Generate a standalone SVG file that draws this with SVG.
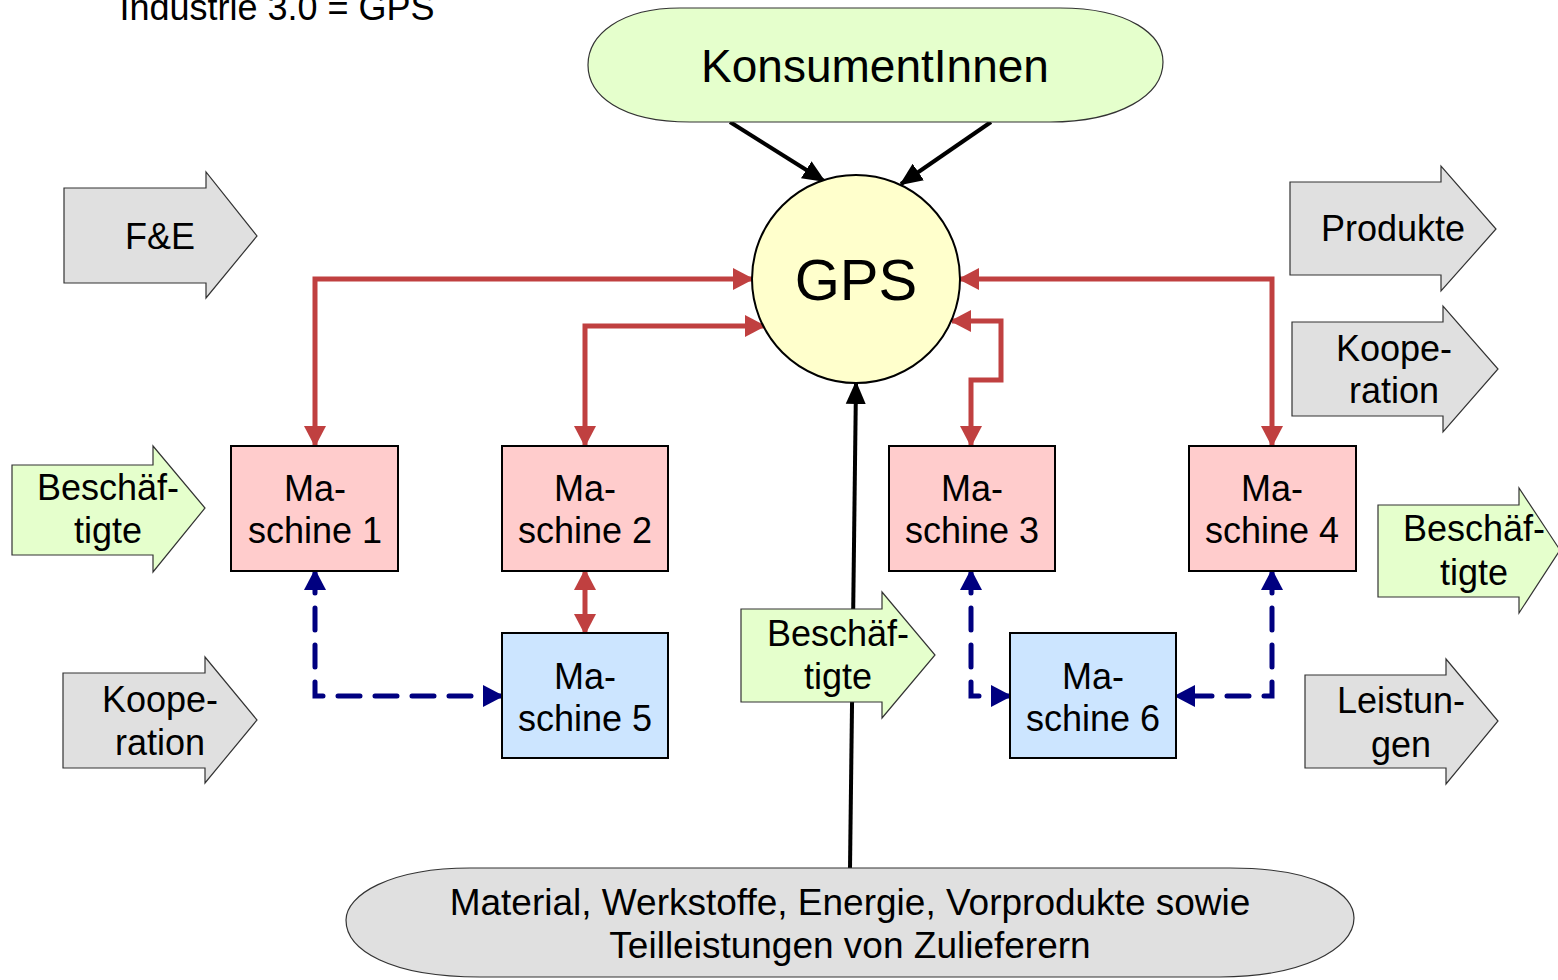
<svg xmlns="http://www.w3.org/2000/svg" width="1558" height="980" viewBox="0 0 1558 980">
<style>
text{font-family:"Liberation Sans",Arial,sans-serif;font-size:36px;fill:#000;text-anchor:middle}
text.big{font-size:46px}
text.huge{font-size:58px}
text.mat{font-size:37px}
.grey{fill:#E0E0E0;stroke:#333;stroke-width:1.2}
.green{fill:#E5FFCC;stroke:#333;stroke-width:1.2}
.pink{fill:#FFCCCC;stroke:#000;stroke-width:2}
.blue{fill:#CCE5FF;stroke:#000;stroke-width:2}
.red{fill:none;stroke:#C04040;stroke-width:5;marker-start:url(#mr);marker-end:url(#mr)}
.navy{fill:none;stroke:#000080;stroke-width:5;stroke-dasharray:22 15;stroke-linecap:round;marker-start:url(#mb);marker-end:url(#mb)}
.blk{fill:none;stroke:#000;stroke-width:4;marker-end:url(#mk)}
</style>
<defs>
<marker id="mr" markerUnits="userSpaceOnUse" markerWidth="22" markerHeight="22" refX="19" refY="11" orient="auto-start-reverse" viewBox="0 0 22 22"><path d="M0,0 L21,11 L0,22 z" fill="#C04040"/></marker>
<marker id="mb" markerUnits="userSpaceOnUse" markerWidth="22" markerHeight="22" refX="19" refY="11" orient="auto-start-reverse" viewBox="0 0 22 22"><path d="M0,0 L21,11 L0,22 z" fill="#000080"/></marker>
<marker id="mk" markerUnits="userSpaceOnUse" markerWidth="24" markerHeight="22" refX="21" refY="10" orient="auto" viewBox="0 0 24 20"><path d="M0,0 L23,10 L0,20 z" fill="#000"/></marker>
</defs>
<rect width="1558" height="980" fill="#fff"/>
<text id="title" x="277" y="20">Industrie 3.0 = GPS</text>

<g id="connectors">
<path class="red" d="M315 445 V279 H752"/>
<path class="red" d="M585 445 V326 H764"/>
<path class="red" d="M960 279 H1272 V445"/>
<path class="red" d="M971 445 V380 H1001 V321 H952"/>
<path class="red" d="M585 571 V633"/>
<path class="navy" d="M315 571 V696 H502"/>
<path class="navy" d="M971 571 V696 H1010"/>
<path class="navy" d="M1272 571 V696 H1176"/>
<path class="blk" d="M730 122 L824 181"/>
<path class="blk" d="M991 122 L901 184"/>
<path class="blk" d="M850 868 L856 383"/>
</g>

<g id="konsumenten">
<path class="green" d="M680 8 L1060 8 C1130 8 1163 35 1163 62 C1163 95 1120 122 1050 122 L690 122 C620 122 588 95 588 65 C588 35 620 8 680 8 Z"/>
<text class="big" x="875" y="82">KonsumentInnen</text>
</g>

<g id="gps">
<circle cx="856" cy="279" r="104" fill="#FFFFCC" stroke="#000" stroke-width="2"/>
<text class="huge" x="856" y="300">GPS</text>
</g>

<g id="fe">
<path class="grey" d="M64 188 H206 V172 L257 236 L206 298 V283 H64 Z"/>
<text x="160" y="249">F&amp;E</text>
</g>
<g id="besch-left">
<path class="green" d="M12 465 H153 V446 L205 508 L153 572 V555 H12 Z"/>
<text x="108" y="500">Beschäf-</text>
<text x="108" y="543">tigte</text>
</g>
<g id="koop-left">
<path class="grey" d="M63 673 H205 V657 L257 720 L205 783 V768 H63 Z"/>
<text x="160" y="712">Koope-</text>
<text x="160" y="755">ration</text>
</g>
<g id="produkte">
<path class="grey" d="M1290 182 H1441 V166 L1496 229 L1441 291 V275 H1290 Z"/>
<text x="1393" y="241">Produkte</text>
</g>
<g id="koop-right">
<path class="grey" d="M1292 322 H1443 V306 L1498 369 L1443 432 V416 H1292 Z"/>
<text x="1394" y="361">Koope-</text>
<text x="1394" y="403">ration</text>
</g>
<g id="besch-right">
<path class="green" d="M1378 505 H1519 V488 L1560 550 L1519 613 V597 H1378 Z"/>
<text x="1474" y="541">Beschäf-</text>
<text x="1474" y="585">tigte</text>
</g>
<g id="leistungen">
<path class="grey" d="M1305 675 H1446 V659 L1498 721 L1446 784 V768 H1305 Z"/>
<text x="1401" y="713">Leistun-</text>
<text x="1401" y="757">gen</text>
</g>
<g id="besch-mid">
<path class="green" d="M741 609 H882 V592 L935 655 L882 718 V702 H741 Z"/>
<text x="838" y="646">Beschäf-</text>
<text x="838" y="689">tigte</text>
</g>

<g id="m1"><rect class="pink" x="231" y="446" width="167" height="125"/><text x="315" y="501">Ma-</text><text x="315" y="543">schine 1</text></g>
<g id="m2"><rect class="pink" x="502" y="446" width="166" height="125"/><text x="585" y="501">Ma-</text><text x="585" y="543">schine 2</text></g>
<g id="m3"><rect class="pink" x="889" y="446" width="166" height="125"/><text x="972" y="501">Ma-</text><text x="972" y="543">schine 3</text></g>
<g id="m4"><rect class="pink" x="1189" y="446" width="167" height="125"/><text x="1272" y="501">Ma-</text><text x="1272" y="543">schine 4</text></g>
<g id="m5"><rect class="blue" x="502" y="633" width="166" height="125"/><text x="585" y="689">Ma-</text><text x="585" y="731">schine 5</text></g>
<g id="m6"><rect class="blue" x="1010" y="633" width="166" height="125"/><text x="1093" y="689">Ma-</text><text x="1093" y="731">schine 6</text></g>

<g id="material">
<path class="grey" d="M470 868 L1230 868 C1320 868 1354 895 1354 918 C1354 950 1300 977 1220 977 L480 977 C390 977 346 950 346 920 C346 895 390 868 470 868 Z"/>
<text class="mat" x="850" y="915">Material, Werkstoffe, Energie, Vorprodukte sowie</text>
<text class="mat" x="850" y="958">Teilleistungen von Zulieferern</text>
</g>
</svg>
